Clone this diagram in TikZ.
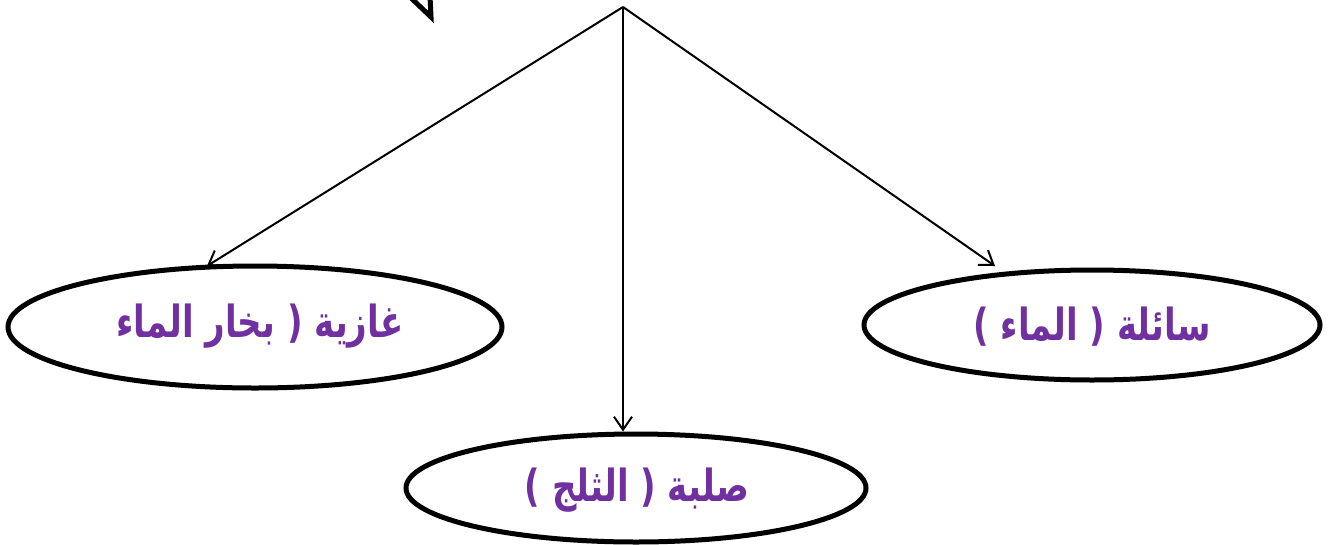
\documentclass[tikz,border=0pt]{standalone}
\usepackage{fontspec}
\usepackage{graphicx}
\usetikzlibrary{arrows.meta,shapes.geometric}
\newfontfamily\arabicfont[Script=Arabic]{DejaVu Sans}
\TeXXeTstate=1
\definecolor{lbl}{HTML}{7030A0}
\newcommand{\tallarabic}[1]{\scalebox{1}[1.3]{\beginR #1\endR}}
\begin{document}
\begin{tikzpicture}[x=1pt,y=-1pt,
  state/.style={draw=black, ellipse, line width=5pt, inner sep=0pt, fill=white},
  lbltext/.style={text=lbl, font=\arabicfont\bfseries\fontsize{34}{40}\selectfont},
  conn/.style={line width=2pt, -{Straight Barb[length=13pt,width=18pt,line width=2pt]}}]
\useasboundingbox (0,0) rectangle (1330,544);
\fill[white] (0,0) rectangle (1330,544);
% ellipses
\node[state, minimum width=494pt, minimum height=122pt] (gas) at (255,327) {};
\node[state, minimum width=456pt, minimum height=110pt] (liquid) at (1092,325) {};
\node[state, minimum width=460pt, minimum height=108pt] (solid) at (636,488) {};
% labels
\node[lbltext] (gastext) at (260,326) {\tallarabic{غازية ( بخار الماء}};
\node[lbltext] (liquidtext) at (1092,327) {\tallarabic{سائلة ( الماء )}};
\node[lbltext] (solidtext) at (637,490) {\tallarabic{صلبة ( الثلج )}};
% connectors
\coordinate (apex) at (623,7);
\coordinate (gasend) at (207,266);
\coordinate (liquidend) at (995,266);
\draw[conn] (apex) -- (gasend);
\draw[conn] (apex) -- (liquidend);
\draw[conn] (apex) -- (solid.north -| apex);
% partial shape at top
\coordinate (va) at (409,-4);
\coordinate (vb) at (431,17);
\coordinate (vc) at (430,-4);
\draw[line width=5pt, line join=miter] (va) -- (vb) -- (vc);
\end{tikzpicture}
\end{document}
